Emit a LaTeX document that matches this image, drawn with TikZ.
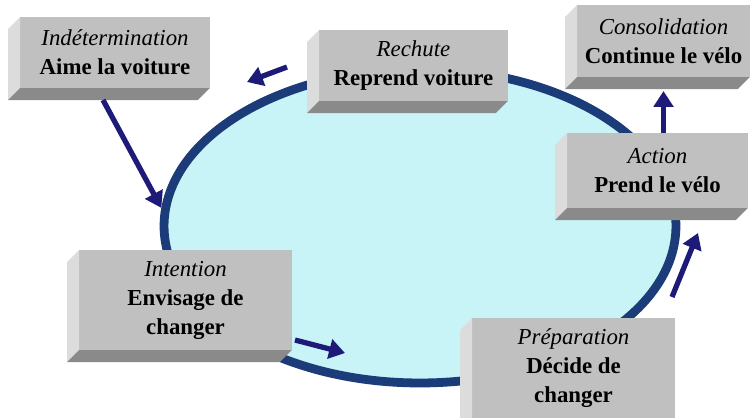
\documentclass[tikz,border=0pt]{standalone}
\usepackage{fontspec}
\setmainfont{Liberation Serif}
\usetikzlibrary{arrows.meta}
\usetikzlibrary{shapes.geometric}
\definecolor{ringblue}{RGB}{27,60,120}
\definecolor{ringfill}{RGB}{200,244,248}
\definecolor{arrownavy}{RGB}{30,26,120}
\definecolor{facegray}{RGB}{192,192,192}
\definecolor{sidegray}{RGB}{220,220,220}
\definecolor{basegray}{RGB}{138,138,138}

\begin{document}
\begin{tikzpicture}[
    x=0.02cm, y=-0.02cm,
    stage/.style n args={2}{rectangle, fill=facegray, minimum width=#1, minimum height=#2, inner sep=2pt, outer sep=0pt, align=center, font=\fontsize{13}{16.5}\selectfont},
    loopring/.style={ellipse, draw=ringblue, line width=5pt, fill=ringfill, minimum width=10.24cm, minimum height=6.28cm, inner sep=0pt},
    flow/.style={draw=arrownavy, line width=3pt, -{Triangle[length=9pt,width=11pt]}}
]
    \clip (0,0) rectangle (754,417);
    \node[loopring] (loop) at (420,226) {};

    % stages of the cycle
    \node[stage={3.8cm}{1.42cm}] (indet) at (115,52.5) {\textit{Indétermination}\\\textbf{Aime la voiture}};
    \node[stage={3.78cm}{1.42cm}] (rech) at (413.5,65.5) {\textit{Rechute}\\\textbf{Reprend voiture}};
    \node[stage={3.46cm}{1.44cm}] (cons) at (663.5,41) {\textit{Consolidation}\\\textbf{Continue le vélo}};
    \node[stage={3.62cm}{1.5cm}] (act) at (657.5,170.5) {\textit{Action}\\\textbf{Prend le vélo}};
    \node[stage={4.26cm}{2cm}] (inten) at (185.5,300) {\textit{Intention}\\\textbf{Envisage de}\\\textbf{changer}};
    \node[stage={4.06cm}{2cm}] (prep) at (573.5,368) {\textit{Préparation}\\\textbf{Décide de}\\\textbf{changer}};

    % bevelled sides
    \foreach \n in {indet, rech, cons, act, inten, prep} {
        \fill[sidegray] (\n.north west) -- ++(-12,12) -- ([shift={(-12,12)}]\n.south west) -- (\n.south west) -- cycle;
        \fill[basegray] (\n.south west) -- ++(-12,12) -- ([shift={(-12,12)}]\n.south east) -- (\n.south east) -- cycle;
    }

    % arrows
    \coordinate (relA) at (287,67);
    \coordinate (relB) at (247,82);
    \coordinate (actA) at (672,297);
    \coordinate (actB) at (698,233);
    \coordinate (intA) at (295,340);
    \coordinate (intB) at (345,353);

    \draw[flow] ([shift={(-12,12)}]indet.south) -- (loop.176);
    \draw[flow] (relA) -- (relB);
    \draw[flow] (act.north -| cons.south) -- ([yshift=-8]cons.south);
    \draw[flow] (actA) -- (actB);
    \draw[flow] (intA) -- (intB);
\end{tikzpicture}
\end{document}
